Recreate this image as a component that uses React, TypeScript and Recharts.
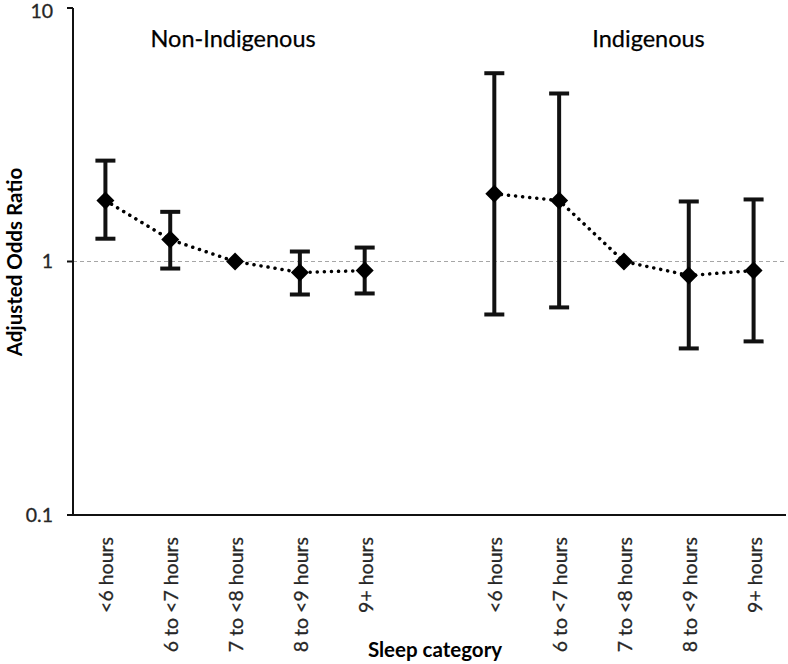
import { ComposedChart, Line, XAxis, YAxis, ErrorBar, ReferenceLine, ReferenceDot, Label } from 'recharts'

const categories = ['<6 hours', '6 to <7 hours', '7 to <8 hours', '8 to <9 hours', '9+ hours']
const nonIndOR = [1.74, 1.22, 1.0, 0.905, 0.921]
const nonIndLow = [1.23, 0.938, null, 0.741, 0.748]
const nonIndHigh = [2.5, 1.57, null, 1.095, 1.135]
const indOR = [1.85, 1.74, 1.0, 0.881, 0.921]
const indLow = [0.618, 0.659, null, 0.454, 0.484]
const indHigh = [5.53, 4.6, null, 1.725, 1.757]
const yTicks = [0.1, 1, 10]
const groupLabels = ['Non-Indigenous', 'Indigenous']

const FONT = 'Lato, "Open Sans", sans-serif'

const errOf = (v: number, lo: number | null, hi: number | null) =>
  lo == null || hi == null ? null : [v - lo, hi - v]

const data = [
  ...categories.map((c, i) => ({
    pos: i, label: c, nonInd: nonIndOR[i], nonIndErr: errOf(nonIndOR[i], nonIndLow[i], nonIndHigh[i]),
  })),
  { pos: 5, label: '' },
  ...categories.map((c, i) => ({
    pos: 6 + i, label: c, ind: indOR[i], indErr: errOf(indOR[i], indLow[i], indHigh[i]),
  })),
]

const labelAt = (pos: number) => data.find(d => d.pos === pos)?.label ?? ''

function XTick(props: any) {
  const { x, y, payload } = props
  return (
    <text
      x={0} y={0} dy="0.36em" textAnchor="end"
      transform={`translate(${x + 1},${y + 14}) rotate(-90)`}
      fill="#262626" fontSize={19.5} fontFamily={FONT}
      stroke="#262626" strokeWidth={0.3}
    >
      {labelAt(payload.value)}
    </text>
  )
}

function Diamond(props: any) {
  const { cx, cy, index } = props
  if (cx == null || cy == null) return <g key={`d-${index}`} />
  const r = 9
  return (
    <polygon
      key={`d-${index}`}
      points={`${cx},${cy - r} ${cx + r},${cy} ${cx},${cy + r} ${cx - r},${cy}`}
      fill="#000"
    />
  )
}

export default function App() {
  return (
    <div style={{ position: 'absolute', left: 0, top: 0, background: '#fff' }}>
      <ComposedChart width={788} height={664} data={data} margin={{ top: 8, right: 2, left: 0, bottom: 0 }}>
        <XAxis
          dataKey="pos" type="number" domain={[-0.5, 10.5]} ticks={[0, 1, 2, 3, 4, 6, 7, 8, 9, 10]}
          interval={0} height={149} tickLine={false} tick={<XTick />}
          axisLine={{ stroke: '#111', strokeWidth: 2 }}
        >
          <Label
            content={() => (
              <text x={435} y={657} textAnchor="middle" fontSize={20.5} fontWeight={700} fontFamily={FONT} fill="#000">
                Sleep category
              </text>
            )}
          />
        </XAxis>
        <XAxis
          xAxisId="top" orientation="top" type="number" domain={[-0.5, 10.5]} height={0}
          tick={false} tickLine={false} axisLine={{ stroke: '#111', strokeWidth: 2 }}
        />
        <YAxis
          scale="log" type="number" domain={[0.1, 10]} ticks={yTicks} allowDataOverflow width={73}
          tickSize={6} tickMargin={14} tickFormatter={(v: number) => String(v)}
          tick={{ fill: '#262626', fontSize: 19.5, fontFamily: FONT, stroke: '#262626', strokeWidth: 0.3 }}
          tickLine={{ stroke: '#111', strokeWidth: 2 }}
          axisLine={{ stroke: '#111', strokeWidth: 2 }}
        >
          <Label
            content={() => (
              <text
                x={22} y={262} textAnchor="middle" transform="rotate(-90, 22, 262)"
                fontSize={20.5} fontWeight={700} fontFamily={FONT} fill="#000"
              >
                Adjusted Odds Ratio
              </text>
            )}
          />
        </YAxis>
        <YAxis
          yAxisId="right" orientation="right" type="number" domain={[0, 1]} width={0}
          tick={false} tickLine={false} axisLine={{ stroke: '#111', strokeWidth: 2 }}
        />
        <ReferenceLine y={1} stroke="#a6a6a6" strokeWidth={1.2} strokeDasharray="4 3" />
        <ReferenceDot
          x={1.97} y={7.6} r={0} stroke="none" ifOverflow="visible"
          label={{ value: groupLabels[0], position: 'center', fontSize: 23.5, fontFamily: FONT, fill: '#000', stroke: '#000', strokeWidth: 0.25 }}
        />
        <ReferenceDot
          x={8.38} y={7.6} r={0} stroke="none" ifOverflow="visible"
          label={{ value: groupLabels[1], position: 'center', fontSize: 23.5, fontFamily: FONT, fill: '#000', stroke: '#000', strokeWidth: 0.25 }}
        />
        <Line
          dataKey="nonInd" stroke="#000" strokeWidth={3.5} strokeDasharray="0.1 7" strokeLinecap="round"
          dot={Diamond} activeDot={false} isAnimationActive={false} connectNulls={false}
        >
          <ErrorBar dataKey="nonIndErr" width={10} stroke="#111" strokeWidth={4} direction="y" isAnimationActive={false} />
        </Line>
        <Line
          dataKey="ind" stroke="#000" strokeWidth={3.5} strokeDasharray="0.1 7" strokeLinecap="round"
          dot={Diamond} activeDot={false} isAnimationActive={false} connectNulls={false}
        >
          <ErrorBar dataKey="indErr" width={10} stroke="#111" strokeWidth={4} direction="y" isAnimationActive={false} />
        </Line>
      </ComposedChart>
    </div>
  )
}
